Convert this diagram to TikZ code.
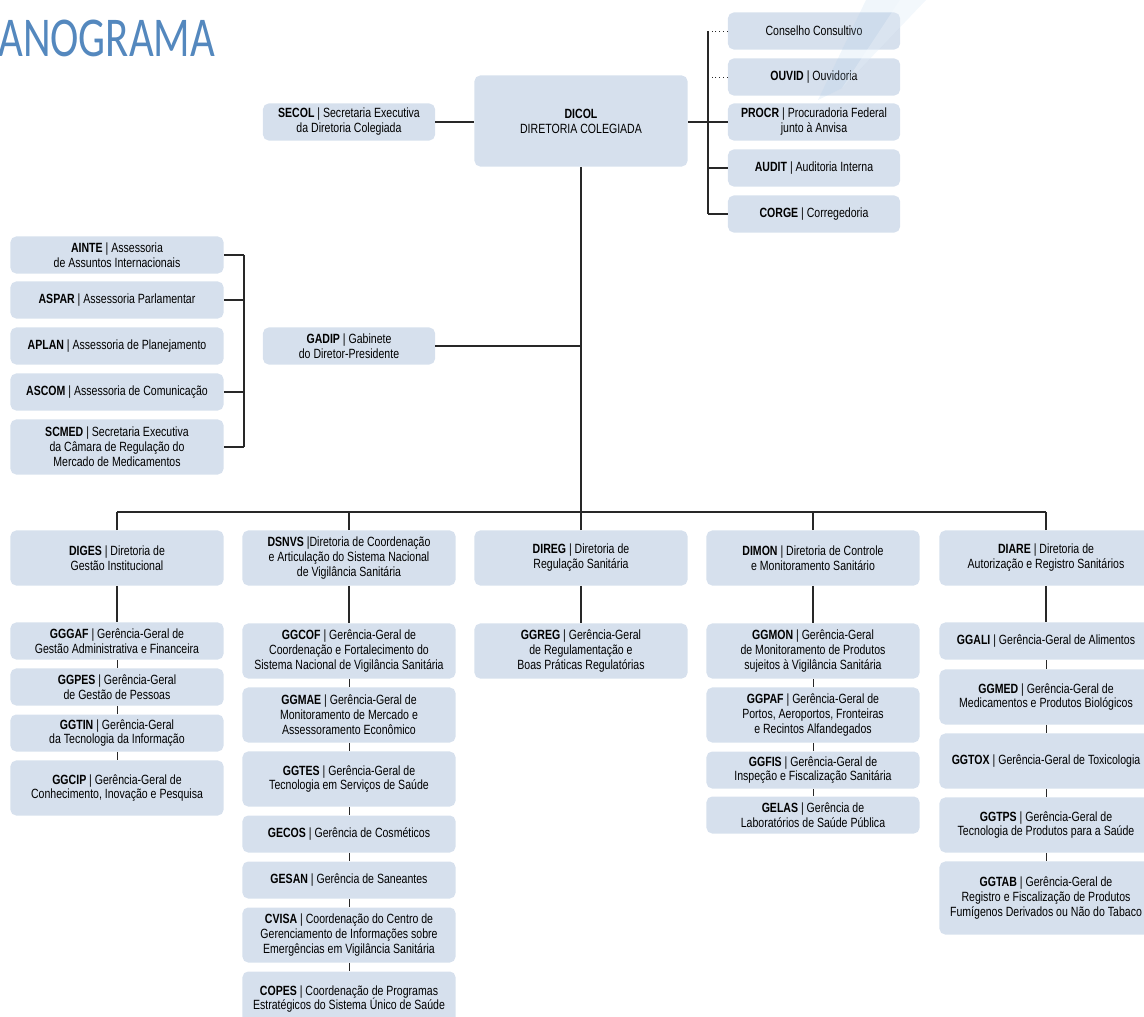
\documentclass[tikz,border=0pt]{standalone}
\usepackage{fontspec}
\newfontfamily\boxfont{Liberation Sans}[FakeStretch=0.79]
\newfontfamily\titlefont{Carlito}[FakeStretch=0.76]
\definecolor{boxblue}{RGB}{214,224,237}
\definecolor{titleblue}{RGB}{84,136,190}
\definecolor{linegray}{RGB}{40,40,40}
\definecolor{swoosh}{RGB}{170,205,235}

\begin{document}
\begin{tikzpicture}[x=0.025cm, y=-0.025cm,
	unit/.style={fill=boxblue, rounded corners=4pt, align=center, inner sep=1pt, minimum width=5.325cm, font=\boxfont\fontsize{9.5}{10.6}\selectfont},
	narrow/.style={unit, minimum width=4.3cm},
	lowbox/.style={minimum height=0.925cm},
	midbox/.style={minimum height=1.375cm},
	highbox/.style={minimum height=1.825cm},
	link/.style={draw=linegray, line width=0.9pt},
	sublink/.style={draw=linegray, line width=0.6pt},
	dotlink/.style={draw=linegray, line width=0.7pt, dotted}]
		\clip (0,0) rectangle (1144,1017);
		\node[anchor=base west, inner sep=0pt, text=titleblue, font=\titlefont\fontsize{40}{40}\selectfont] (title) at (-2,57) {ANOGRAMA};
		\coordinate (rbus) at (708,0);
		\coordinate (lbus) at (244,0);
		\coordinate (bus) at (581,512);
		\node[unit, minimum height=2.275cm] (DICOL) at (581,121) {\textbf{DICOL}\\DIRETORIA COLEGIADA};
		\node[narrow, lowbox] (SECOL) at (349,122) {\textbf{SECOL} | Secretaria Executiva\\da Diretoria Colegiada};
		\draw[link] (SECOL.east) -- (SECOL.east -| DICOL.west);
		\node[narrow, lowbox] (CONS) at (814,31) {Conselho Consultivo};
		\draw[dotlink] (CONS.west) -- (CONS.west -| rbus);
		\node[narrow, lowbox] (OUVID) at (814,77) {\textbf{OUVID} | Ouvidoria};
		\draw[dotlink] (OUVID.west) -- (OUVID.west -| rbus);
		\node[narrow, lowbox] (PROCR) at (814,122) {\textbf{PROCR} | Procuradoria Federal\\junto à Anvisa};
		\draw[link] (DICOL.east |- PROCR.west) -- (PROCR.west);
		\node[narrow, lowbox] (AUDIT) at (814,168) {\textbf{AUDIT} | Auditoria Interna};
		\draw[link] (AUDIT.west) -- (AUDIT.west -| rbus);
		\node[narrow, lowbox] (CORGE) at (814,214) {\textbf{CORGE} | Corregedoria};
		\draw[link] (CORGE.west) -- (CORGE.west -| rbus);
		\draw[link] (CONS.west -| rbus) -- (CORGE.west -| rbus);
		\fill[swoosh, opacity=0.18] (866,0) -- (926,0) -- (842,88) -- (818,100) -- cycle;
		\fill[white, opacity=0.25] (900,0) -- (926,0) -- (842,88) -- cycle;
		\node[unit, lowbox] (AINTE) at (117,255) {\textbf{AINTE} | Assessoria\\de Assuntos Internacionais};
		\draw[link] (AINTE.east) -- (AINTE.east -| lbus);
		\node[unit, lowbox] (ASPAR) at (117,300) {\textbf{ASPAR} | Assessoria Parlamentar};
		\draw[link] (ASPAR.east) -- (ASPAR.east -| lbus);
		\node[unit, lowbox] (APLAN) at (117,346) {\textbf{APLAN} | Assessoria de Planejamento};
		\node[unit, lowbox] (ASCOM) at (117,392) {\textbf{ASCOM} | Assessoria de Comunicação};
		\draw[link] (ASCOM.east) -- (ASCOM.east -| lbus);
		\node[unit, midbox] (SCMED) at (117,447) {\textbf{SCMED} | Secretaria Executiva\\da Câmara de Regulação do\\Mercado de Medicamentos};
		\draw[link] (SCMED.east) -- (SCMED.east -| lbus);
		\draw[link] (AINTE.east -| lbus) -- (SCMED.east -| lbus);
		\node[narrow, lowbox] (GADIP) at (349,346) {\textbf{GADIP} | Gabinete\\do Diretor-Presidente};
		\draw[link] (GADIP.east) -- (GADIP.east -| DICOL.south);
		\draw[link] (DICOL.south) -- (bus);
		\node[unit, midbox] (DIGES) at (117,558) {\textbf{DIGES} | Diretoria de\\Gestão Institucional};
		\draw[link] (DIGES.north) -- (DIGES.north |- bus);
		\node[unit, midbox] (DSNVS) at (349,558) {\textbf{DSNVS} |Diretoria de Coordenação\\e Articulação do Sistema Nacional\\de Vigilância Sanitária};
		\draw[link] (DSNVS.north) -- (DSNVS.north |- bus);
		\node[unit, midbox] (DIREG) at (581,558) {\textbf{DIREG} | Diretoria de\\Regulação Sanitária};
		\draw[link] (DIREG.north) -- (DIREG.north |- bus);
		\node[unit, midbox] (DIMON) at (813,558) {\textbf{DIMON} | Diretoria de Controle\\e Monitoramento Sanitário};
		\draw[link] (DIMON.north) -- (DIMON.north |- bus);
		\node[unit, midbox] (DIARE) at (1046,558) {\textbf{DIARE} | Diretoria de\\Autorização e Registro Sanitários};
		\draw[link] (DIARE.north) -- (DIARE.north |- bus);
		\draw[link] (DIGES.north |- bus) -- (DIARE.north |- bus);
		\node[unit, lowbox] (GGGAF) at (117,641) {\textbf{GGGAF} | Gerência-Geral de\\Gestão Administrativa e Financeira};
		\draw[link] (DIGES) -- (GGGAF);
		\node[unit, lowbox] (GGPES) at (117,687) {\textbf{GGPES} | Gerência-Geral\\de Gestão de Pessoas};
		\draw[sublink] (GGGAF) -- (GGPES);
		\node[unit, lowbox] (GGTIN) at (117,733) {\textbf{GGTIN} | Gerência-Geral\\da Tecnologia da Informação};
		\draw[sublink] (GGPES) -- (GGTIN);
		\node[unit, midbox] (GGCIP) at (117,788) {\textbf{GGCIP} | Gerência-Geral de\\Conhecimento, Inovação e Pesquisa};
		\draw[sublink] (GGTIN) -- (GGCIP);
		\node[unit, midbox] (GGCOF) at (349,651) {\textbf{GGCOF} | Gerência-Geral de\\Coordenação e Fortalecimento do\\Sistema Nacional de Vigilância Sanitária};
		\draw[link] (DSNVS) -- (GGCOF);
		\node[unit, midbox] (GGMAE) at (349,715) {\textbf{GGMAE} | Gerência-Geral de\\Monitoramento de Mercado e\\Assessoramento Econômico};
		\draw[sublink] (GGCOF) -- (GGMAE);
		\node[unit, midbox] (GGTES) at (349,779) {\textbf{GGTES} | Gerência-Geral de\\Tecnologia em Serviços de Saúde};
		\draw[sublink] (GGMAE) -- (GGTES);
		\node[unit, lowbox] (GECOS) at (349,834) {\textbf{GECOS} | Gerência de Cosméticos};
		\draw[sublink] (GGTES) -- (GECOS);
		\node[unit, lowbox] (GESAN) at (349,880) {\textbf{GESAN} | Gerência de Saneantes};
		\draw[sublink] (GECOS) -- (GESAN);
		\node[unit, midbox] (CVISA) at (349,935) {\textbf{CVISA} | Coordenação do Centro de\\Gerenciamento de Informações sobre\\Emergências em Vigilância Sanitária};
		\draw[sublink] (GESAN) -- (CVISA);
		\node[unit, midbox] (COPES) at (349,999) {\textbf{COPES} | Coordenação de Programas\\Estratégicos do Sistema Único de Saúde};
		\draw[sublink] (CVISA) -- (COPES);
		\node[unit, midbox] (GGREG) at (581,651) {\textbf{GGREG} | Gerência-Geral\\de Regulamentação e\\Boas Práticas Regulatórias};
		\draw[link] (DIREG) -- (GGREG);
		\node[unit, midbox] (GGMON) at (813,651) {\textbf{GGMON} | Gerência-Geral\\de Monitoramento de Produtos\\sujeitos à Vigilância Sanitária};
		\draw[link] (DIMON) -- (GGMON);
		\node[unit, midbox] (GGPAF) at (813,715) {\textbf{GGPAF} | Gerência-Geral de\\Portos, Aeroportos, Fronteiras\\e Recintos Alfandegados};
		\draw[sublink] (GGMON) -- (GGPAF);
		\node[unit, lowbox] (GGFIS) at (813,770) {\textbf{GGFIS} | Gerência-Geral de\\Inspeção e Fiscalização Sanitária};
		\draw[sublink] (GGPAF) -- (GGFIS);
		\node[unit, lowbox] (GELAS) at (813,815) {\textbf{GELAS} | Gerência de\\Laboratórios de Saúde Pública};
		\draw[sublink] (GGFIS) -- (GELAS);
		\node[unit, lowbox] (GGALI) at (1046,641) {\textbf{GGALI} | Gerência-Geral de Alimentos};
		\draw[link] (DIARE) -- (GGALI);
		\node[unit, midbox] (GGMED) at (1046,697) {\textbf{GGMED} | Gerência-Geral de\\Medicamentos e Produtos Biológicos};
		\draw[sublink] (GGALI) -- (GGMED);
		\node[unit, midbox] (GGTOX) at (1046,761) {\textbf{GGTOX} | Gerência-Geral de Toxicologia};
		\draw[sublink] (GGMED) -- (GGTOX);
		\node[unit, midbox] (GGTPS) at (1046,825) {\textbf{GGTPS} | Gerência-Geral de\\Tecnologia de Produtos para a Saúde};
		\draw[sublink] (GGTOX) -- (GGTPS);
		\node[unit, highbox] (GGTAB) at (1046,898) {\textbf{GGTAB} | Gerência-Geral de\\Registro e Fiscalização de Produtos\\Fumígenos Derivados ou Não do Tabaco};
		\draw[sublink] (GGTPS) -- (GGTAB);
\end{tikzpicture}
\end{document}
